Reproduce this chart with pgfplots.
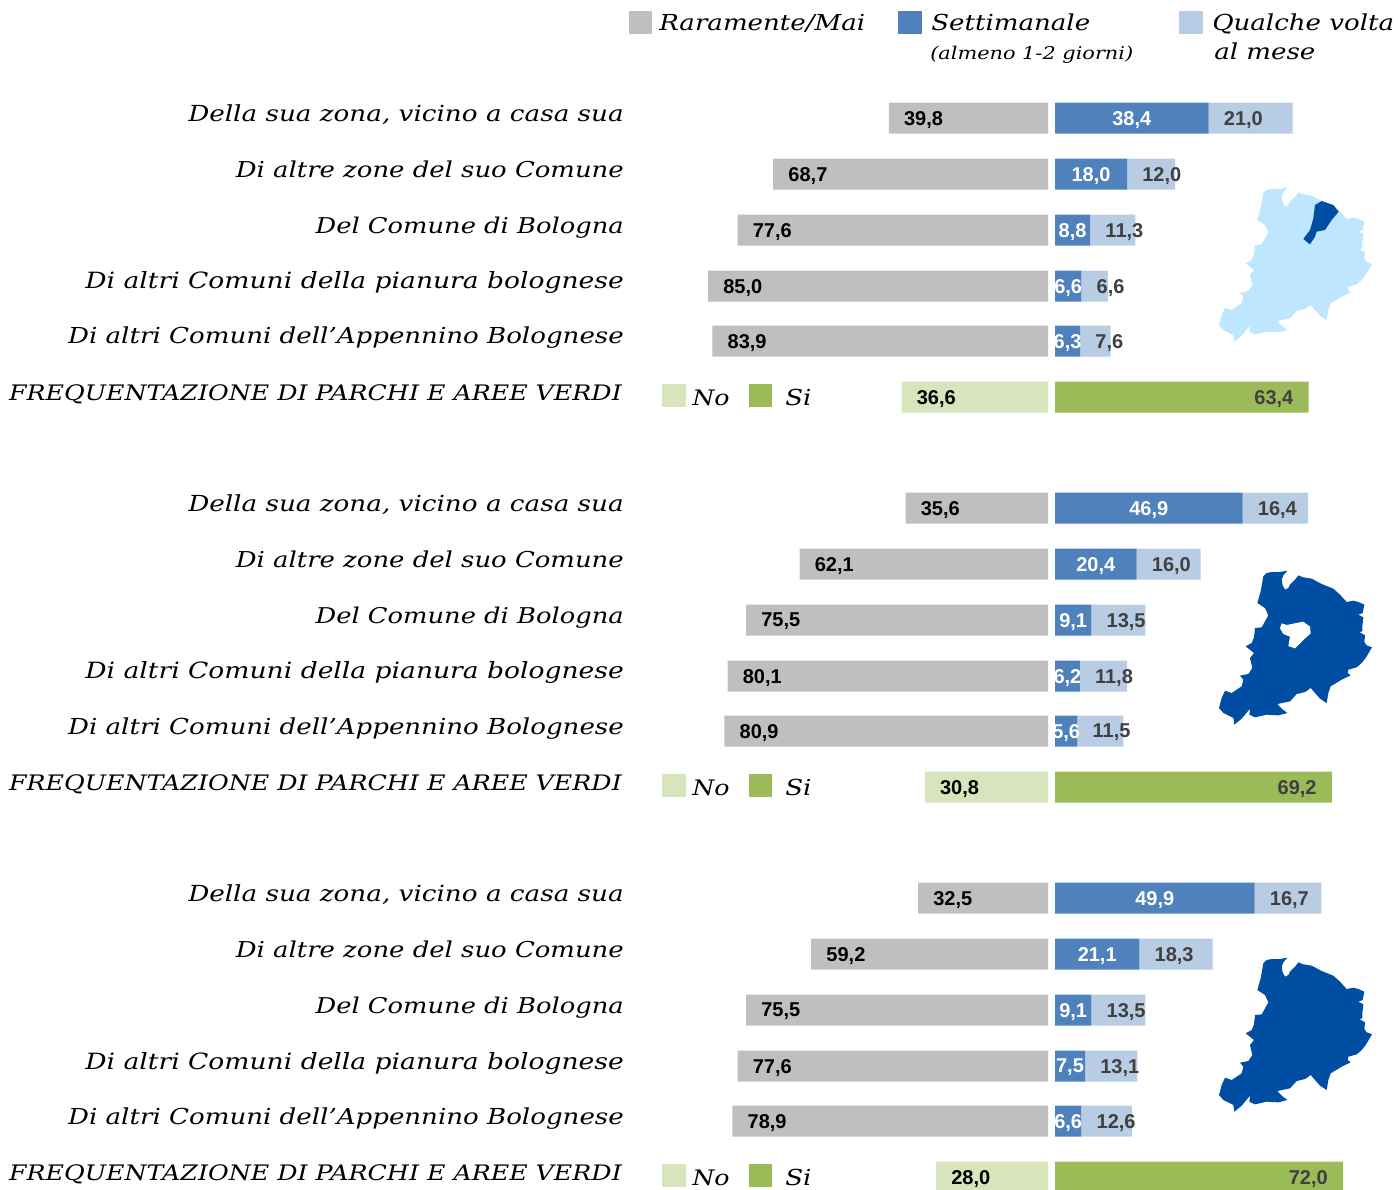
\documentclass[border=0pt]{standalone}
\usepackage{pgfplots}
\usepackage{pgfplotstable}
\usepackage{fontspec}
\pgfplotsset{compat=1.18}
\setmainfont{Liberation Sans}
\newfontfamily\hand[FakeStretch=1.185]{DejaVu Serif}
\definecolor{cgrey}{HTML}{BFBFBF}
\definecolor{cblue}{HTML}{4F81BD}
\definecolor{clight}{HTML}{B8CCE4}
\definecolor{cpale}{HTML}{D8E4BC}
\definecolor{cgreen}{HTML}{9BBB59}
\definecolor{cmapl}{HTML}{BEE6FF}
\definecolor{cmapd}{HTML}{004EA3}
\definecolor{ctxt}{HTML}{404040}
% 1 px = 0.75 pt
\pgfplotstableread{
y v
118 39.8
174 68.7
230 77.6
286 85.0
341 83.9
508 35.6
564 62.1
620 75.5
676 80.1
731 80.9
898 32.5
954 59.2
1010 75.5
1066 77.6
1121 78.9
}\greytab
\pgfplotstableread{
y v
397 36.6
787 30.8
1177 28.0
}\notab
\pgfplotstableread{
y v
397 63.4
787 69.2
1177 72.0
}\yestab
\pgfplotstableread{
y a b
118 38.4 21.0
174 18.0 12.0
230 8.8 11.3
286 6.6 6.6
341 6.3 7.6
508 46.9 16.4
564 20.4 16.0
620 9.1 13.5
676 6.2 11.8
731 5.6 11.5
898 49.9 16.7
954 21.1 18.3
1010 9.1 13.5
1066 7.5 13.1
1121 6.6 12.6
}\freqtab
\pgfplotstableread{
x y
190 55
200 45
215 42
240 42
262 38
250 52
245 65
248 82
255 95
265 90
270 80
285 65
295 52
310 58
335 62
365 78
400 92
420 110
440 132
460 128
475 132
493 140
488 165
475 170
490 178
487 205
487 220
478 222
495 232
493 252
500 262
516 268
497 300
485 315
470 328
445 335
443 345
452 352
425 365
392 385
385 405
380 435
360 422
345 405
332 390
315 402
290 408
270 430
232 438
245 452
262 465
235 472
200 470
165 478
148 470
150 452
125 482
103 500
100 480
70 465
57 450
65 420
75 398
95 405
125 385
130 365
120 353
145 348
157 330
150 300
162 285
137 265
155 255
162 238
165 210
185 208
205 172
195 150
172 135
182 100
}\mapoutline
\pgfplotstableread{
x y
345 90
365 78
400 90
416 110
395 135
375 165
350 170
345 185
330 208
310 192
330 165
340 130
}\mapzone
\pgfplotstableread{
x y
245 190
260 195
285 190
310 185
330 200
332 220
310 240
285 265
265 258
270 230
250 222
240 205
}\maphole
\tikzset{lbl/.style={font=\fontsize{15pt}{16pt}\selectfont\bfseries, inner sep=0pt, yshift=-1.2pt}}
\pgfplotsset{
 base/.style={scale only axis, height=891.75pt, ymin=0, ymax=1189, y dir=reverse, hide axis,
   anchor=south west, bar width=23.25pt,
   /pgf/number format/use comma, /pgf/number format/fixed, /pgf/number format/fixed zerofill,
   /pgf/number format/precision=1, /pgf/number format/assume math mode=true},
 leftax/.style={base, width=786pt, xmin=0, xmax=262, x dir=reverse, at={(0,0)}},
 rightax/.style={base, width=257.25pt, xmin=0, xmax=85.75, at={(791.25pt,0)}},
}
\newcommand\hf[1]{\hand\itshape\fontsize{#1}{#1}\selectfont}
\newcommand\rowlabels[6]{%
 \node[anchor=base east,inner sep=0pt] at (axis cs:624,#1) {\hf{16.6pt}Della sua zona, vicino a casa sua};
 \node[anchor=base east,inner sep=0pt] at (axis cs:624,#2) {\hf{16.4pt}Di altre zone del suo Comune};
 \node[anchor=base east,inner sep=0pt] at (axis cs:624,#3) {\hf{16.3pt}Del Comune di Bologna};
 \node[anchor=base east,inner sep=0pt] at (axis cs:624,#4) {\hf{16.8pt}Di altri Comuni della pianura bolognese};
 \node[anchor=base east,inner sep=0pt] at (axis cs:624,#5) {\hf{16.5pt}Di altri Comuni dell’Appennino Bolognese};
 \node[anchor=base east,inner sep=0pt] at (axis cs:622,#6) {\hf{16pt}FREQUENTAZIONE DI PARCHI E AREE VERDI};
}
\newcommand\hnode[4]{\node[anchor=base west,inner sep=0pt,#4] at (axis cs:#1,#2) {#3};}
\begin{document}
\begin{tikzpicture}
\path[use as bounding box] (0,0) rectangle (1048.5pt,891.75pt);
% left: Raramente/Mai, No
\begin{axis}[leftax]
\addplot[xbar, bar shift=0pt, fill=cgrey, draw=none, point meta=\thisrow{v}, nodes near coords,
  every node near coord/.append style={lbl, anchor=west, xshift=11.25pt, text=black}]
  table[x=v,y=y]{\greytab};
\addplot[xbar, bar shift=0pt, fill=cpale, draw=none, point meta=\thisrow{v}, nodes near coords,
  every node near coord/.append style={lbl, anchor=west, xshift=11.25pt, text=black}]
  table[x=v,y=y]{\notab};
\end{axis}
% right: Settimanale + Qualche volta
\begin{axis}[rightax, xbar stacked]
\addplot[fill=cblue, draw=none, point meta=\thisrow{a}, nodes near coords,
  every node near coord/.append style={lbl, anchor=center, text=white}]
  table[x=a,y=y]{\freqtab};
\addplot[fill=clight, draw=none, point meta=\thisrow{b}, nodes near coords,
  visualization depends on={\thisrow{b} \as \bval},
  every node near coord/.append style={lbl, anchor=west, xshift=-1.5pt*\bval+11.25pt, text=ctxt}]
  table[x=b,y=y]{\freqtab};
\end{axis}
% right: Si
\begin{axis}[rightax]
\addplot[xbar, bar shift=0pt, fill=cgreen, draw=none, point meta=\thisrow{v}, nodes near coords,
  every node near coord/.append style={lbl, anchor=east, xshift=-11.25pt, text=ctxt}]
  table[x=v,y=y]{\yestab};
\end{axis}
% overlay in pixel coordinates: labels, swatches, maps
\begin{axis}[base, width=1048.5pt, xmin=0, xmax=1398, at={(0,0)}, clip=false]
\addplot[only marks, mark=square*, mark size=8.5pt, mark options={draw=cgrey,fill=cgrey,line width=0pt}] coordinates {(640.5,22.5)};
\addplot[only marks, mark=square*, mark size=8.5pt, mark options={draw=cblue,fill=cblue,line width=0pt}] coordinates {(910,22.5)};
\addplot[only marks, mark=square*, mark size=8.5pt, mark options={draw=clight,fill=clight,line width=0pt}] coordinates {(1191,22.5)};
\addplot[only marks, mark=square*, mark size=8.5pt, mark options={draw=cpale,fill=cpale,line width=0pt}] coordinates {(674,395.5) (674,785.5) (674,1175.5)};
\addplot[only marks, mark=square*, mark size=8.5pt, mark options={draw=cgreen,fill=cgreen,line width=0pt}] coordinates {(760.5,395.5) (760.5,785.5) (760.5,1175.5)};
% maps
\addplot[fill=cmapl, draw=none] table[x expr=1200+\thisrow{x}/3, y expr=175+\thisrow{y}/3]{\mapoutline};
\addplot[fill=cmapd, draw=none] table[x expr=1200+\thisrow{x}/3, y expr=175+\thisrow{y}/3]{\mapzone};
\addplot[fill=cmapd, draw=none] table[x expr=1200+\thisrow{x}/3, y expr=558+\thisrow{y}/3]{\mapoutline};
\addplot[fill=white, draw=none] table[x expr=1200+\thisrow{x}/3, y expr=560+\thisrow{y}/3]{\maphole};
\addplot[fill=cmapd, draw=none] table[x expr=1200+\thisrow{x}/3, y expr=945+\thisrow{y}/3]{\mapoutline};
% legend text
\hnode{659}{30}{\hf{16.5pt}Raramente/Mai}{}
\hnode{931}{30}{\hf{16.5pt}Settimanale}{}
\hnode{930}{59}{\hf{13.2pt}(almeno 1-2 giorni)}{}
\hnode{1212}{30}{\hf{16.5pt}Qualche volta}{}
\hnode{1214}{59}{\hf{16.5pt}al mese}{}
\rowlabels{121}{177}{233}{288}{343}{400}
\rowlabels{511}{567}{623}{678}{734}{790}
\rowlabels{901}{957}{1013}{1069}{1124}{1180}
\hnode{692}{405}{\hf{16pt}No}{}
\hnode{785}{405}{\hf{16.5pt}Si}{}
\hnode{692}{795}{\hf{16pt}No}{}
\hnode{785}{795}{\hf{16.5pt}Si}{}
\hnode{692}{1185}{\hf{16pt}No}{}
\hnode{785}{1185}{\hf{16.5pt}Si}{}
\end{axis}
\end{tikzpicture}
\end{document}
